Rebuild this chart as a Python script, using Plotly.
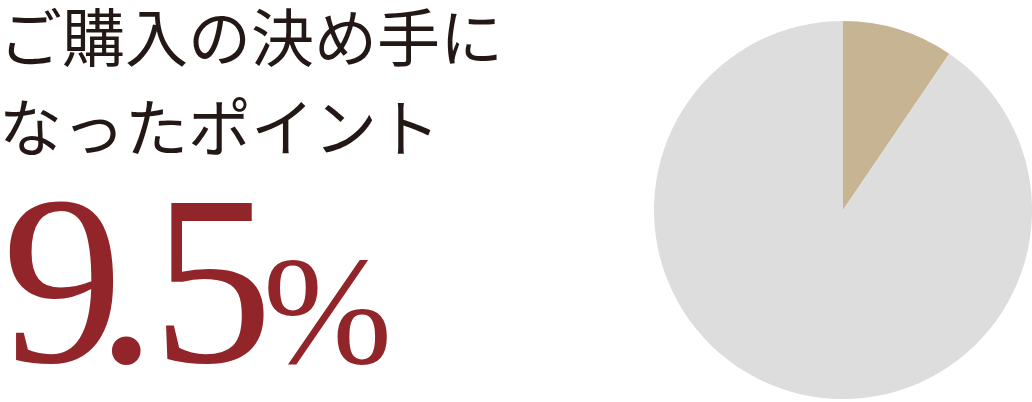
import plotly.graph_objects as go

W, H = 1032, 402

labels = ['決め手になったポイント', 'その他']
values = [9.5, 90.5]
slice_colors = ['#c6b492', '#dcdddc']

title_lines = ['ご購入の決め手に', 'なったポイント']
big_digits = ['9', '.', '5']
unit = '%'

JP_FONT = 'Noto Sans CJK JP'
NUM_FONT = 'Liberation Serif'
INK = '#231815'
RED = '#922529'


def px_x(v):
    return v / W


def px_y(v):
    return 1 - v / H


fig = go.Figure()
fig.add_trace(go.Pie(
    labels=labels,
    values=values,
    sort=False,
    direction='clockwise',
    rotation=0,
    textinfo='none',
    hoverinfo='label+percent',
    marker=dict(colors=slice_colors, line=dict(width=0)),
    domain=dict(x=[px_x(654), 1.0], y=[px_y(399), px_y(21)]),
    showlegend=False,
))

annotations = [
    dict(text=title_lines[0], x=px_x(-3), y=px_y(34), xanchor='left', yanchor='middle',
         font=dict(family=JP_FONT, size=63, color=INK)),
    dict(text=title_lines[1], x=px_x(-3), y=px_y(124), xanchor='left', yanchor='middle',
         font=dict(family=JP_FONT, size=63, color=INK)),
    dict(text=unit, x=px_x(327), y=px_y(311), xanchor='center', yanchor='middle',
         font=dict(family=NUM_FONT, size=155, color=RED)),
    # numerals placed one by one so the spacing stays tight like the reference
    dict(text=big_digits[0], x=0, y=px_y(280), xanchor='left', yanchor='middle',
         font=dict(family=NUM_FONT, size=242, color=RED)),
    dict(text=big_digits[1], x=px_x(126), y=px_y(280), xanchor='center', yanchor='middle',
         font=dict(family=NUM_FONT, size=242, color=RED)),
    dict(text=big_digits[2], x=px_x(212), y=px_y(280), xanchor='center', yanchor='middle',
         font=dict(family=NUM_FONT, size=242, color=RED)),
]
for a in annotations:
    a.update(xref='paper', yref='paper', showarrow=False)

fig.update_layout(
    width=W,
    height=H,
    margin=dict(l=0, r=0, t=0, b=0),
    paper_bgcolor='white',
    plot_bgcolor='white',
    annotations=annotations,
)

fig.write_html('out.html', config={'displayModeBar': False},
               post_script="document.body.style.margin='0';")
